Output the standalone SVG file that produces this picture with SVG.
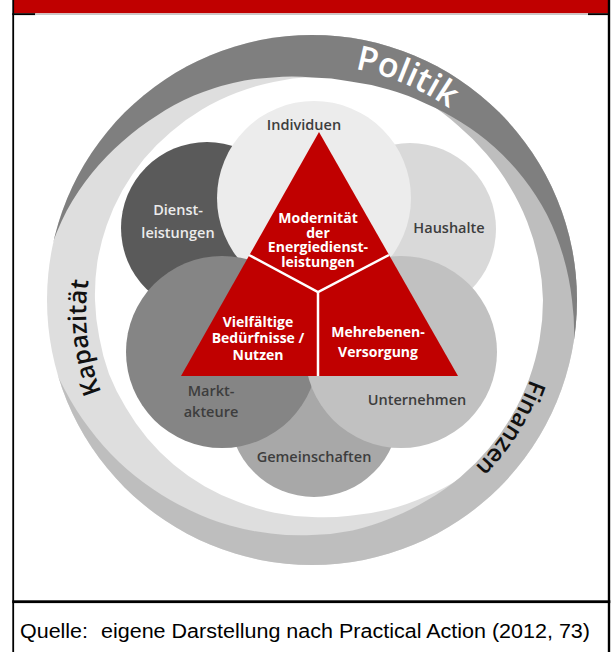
<svg xmlns="http://www.w3.org/2000/svg" width="611" height="652" viewBox="0 0 611 652">
<defs>
<style>
.lbl{font-family:"Open Sans","Liberation Sans",sans-serif;font-weight:600;font-size:14.5px;fill:#3d3d3d;text-anchor:middle}
.lblw{font-family:"Open Sans","Liberation Sans",sans-serif;font-weight:600;font-size:14.5px;fill:#ececec;text-anchor:middle}
.tri{font-family:"Open Sans","Liberation Sans",sans-serif;font-weight:700;font-size:14px;fill:#ffffff;text-anchor:middle}
.ring{font-family:"Open Sans","Liberation Sans",sans-serif;font-weight:600;text-anchor:middle}
.cap{font-family:"Liberation Sans",Arial,sans-serif;font-size:20px;fill:#000}
.div{stroke:#ffffff;stroke-width:2.5;fill:none}
</style>
<mask id="mLight" maskUnits="userSpaceOnUse" x="0" y="0" width="611" height="652">
<rect width="611" height="652" fill="#fff"/>
<path fill="#000" d="M553,300 A241,241 0 0 1 549.3,341.8 A241,241 0 0 1 538.5,382.4 A240,240 0 0 1 519.8,420 A237,237 0 0 1 493.5,452.3 A232,232 0 0 1 461.1,477.7 A227,227 0 0 1 425.5,496.6 A223,223 0 0 1 388.3,509.6 A219,219 0 0 1 350,515.7 A217,217 0 0 1 312,517 A216,216 0 0 1 274.5,512.7 A215,215 0 0 1 238.5,502 A215,215 0 0 1 204.5,486.2 A215,215 0 0 1 173.8,464.7 A215,215 0 0 1 147.3,438.2 A215,215 0 0 1 125.8,407.5 A216,216 0 0 1 109,373.9 A216,216 0 0 1 99.3,337.5 A217,217 0 0 1 95,300 A218,218 0 0 1 97.3,262.2 A218,218 0 0 1 106.7,225.3 A219,219 0 0 1 122.3,190.5 A219,219 0 0 1 143.9,158.9 A219,219 0 0 1 170.9,131.9 A220,220 0 0 1 202,109.5 A220,220 0 0 1 236.6,92.8 A221,221 0 0 1 273.5,81.9 A223,223 0 0 1 312,77 A225,225 0 0 1 351.1,78.4 A227,227 0 0 1 389.6,86.7 A229,229 0 0 1 426.5,101.7 A231,231 0 0 1 460.5,123.1 A233,233 0 0 1 490.5,150.2 A235,235 0 0 1 515.5,182.5 A237,237 0 0 1 534.7,218.9 A239,239 0 0 1 547.4,258.5 A241,241 0 0 1 553,300 Z"/>
</mask>
<mask id="mMed" maskUnits="userSpaceOnUse" x="0" y="0" width="611" height="652">
<rect width="611" height="652" fill="#fff"/>
<path fill="#000" d="M263.9,-30 L263.9,27.2 A272,272 0 0 1 312,33 A258,258 0 0 1 355.4,53.8 A242,242 0 0 1 392.4,79.2 A232,232 0 0 1 426.5,101.7 A228,228 0 0 1 458.2,125.7 A227.5,227.5 0 0 1 486.3,153.8 A228,228 0 0 1 509.4,186 A229,229 0 0 1 527.2,221.7 A230,230 0 0 1 538.5,260.1 A231,231 0 0 1 543,300 A231,231 0 0 1 539.5,340.1 A231,231 0 0 1 529.1,379 A231,231 0 0 1 512,415.5 A231,231 0 0 1 488.9,448.5 A231,231 0 0 1 460.5,476.9 A231,231 0 0 1 427.5,500 A232,232 0 0 1 391.3,518 A233,233 0 0 1 352.6,530.4 A235,235 0 0 1 312,535 A236,236 0 0 1 270.9,533.4 A239,239 0 0 1 229.9,525.5 A242,242 0 0 1 190.5,510.4 A245,245 0 0 1 153.2,489.2 A250,250 0 0 1 119,462 A255,255 0 0 1 89.4,428.5 A260,260 0 0 1 64.9,389.9 A267,267 0 0 1 46.1,346.9 A274,274 0 0 1 35,300 L-30,300 L-30,-30 Z"/>
</mask>
<mask id="mDark" maskUnits="userSpaceOnUse" x="0" y="0" width="611" height="652">
<rect width="611" height="652" fill="#fff"/>
<path fill="#000" d="M-30,276.4 L42,276.4 A269,269 0 0 1 49.1,253.6 A264,264 0 0 1 66.7,210.7 A257,257 0 0 1 92,173 A250,250 0 0 1 122.8,141.2 A244,244 0 0 1 157.1,115.4 A238,238 0 0 1 194,95.6 A233,233 0 0 1 233,82.9 A228,228 0 0 1 272.8,77.4 A224,224 0 0 1 312,77.5 A222,222 0 0 1 350.5,81.4 A223,223 0 0 1 388.6,89.5 A225,225 0 0 1 425.5,103.4 A229,229 0 0 1 461.1,122.3 A235,235 0 0 1 494.3,147 A241,241 0 0 1 523.3,178 A247,247 0 0 1 546.9,214.5 A252,252 0 0 1 563.1,255.7 A257,257 0 0 1 572,300 A263,263 0 0 1 574,346.2 A269,269 0 0 1 568.5,393.4 L640,400 L640,660 L-30,660 Z"/>
</mask>
<path id="pPolitik" d="M129.7,150 A238,238 0 0 1 550,303"/>
<path id="pFin" d="M539.5,262.9 A231,231 0 0 1 352.1,530.5"/>
<path id="pKap" d="M225.5,512.2 A212,212 0 0 1 225.5,113.8"/>
</defs>
<rect width="611" height="652" fill="#fff"/>
<g id="frame">
<rect x="14" y="0" width="594" height="13.3" fill="#c00000"/>
<rect x="12.3" y="0" width="1.8" height="652" fill="#000"/>
<rect x="607.8" y="0" width="2.4" height="652" fill="#000"/>
<rect x="12.3" y="13.2" width="23" height="1.9" fill="#000"/>
<rect x="588" y="13.2" width="22" height="1.9" fill="#000"/>
<rect x="35" y="13.4" width="553" height="1.6" fill="#c8c8c8"/>
<rect x="12.3" y="600.3" width="598" height="2.8" fill="#000"/>
</g>
<g id="ring-kapazitaet">
<circle cx="312" cy="300" r="265" fill="#dedede" mask="url(#mLight)"/>
<text class="ring" font-size="25" fill="#111"><textPath href="#pKap" startOffset="45.3%">Kapazität</textPath></text>
</g>
<g id="ring-finanzen">
<circle cx="312" cy="300" r="265" fill="#bebebe" mask="url(#mMed)"/>
<text class="ring" font-size="24" fill="#111"><textPath href="#pFin" startOffset="46.9%">Finanzen</textPath></text>
</g>
<g id="ring-politik">
<circle cx="312" cy="300" r="265" fill="#7f7f7f" mask="url(#mDark)"/>
<text class="ring" font-size="34" fill="#fff"><textPath href="#pPolitik" startOffset="52%">Politik</textPath></text>
</g>
<g id="gemeinschaften"><circle cx="314" cy="412" r="85" fill="#a8a8a8"/></g>
<g id="dienstleistungen"><circle cx="207" cy="228" r="86" fill="#5a5a5a"/></g>
<g id="haushalte"><circle cx="410" cy="229" r="86" fill="#d9d9d9"/></g>
<g id="individuen"><circle cx="314" cy="198" r="97" fill="#ececec"/></g>
<g id="marktakteure"><circle cx="222" cy="352" r="96" fill="#858585"/></g>
<g id="unternehmen"><circle cx="401" cy="352" r="96" fill="#c1c1c1"/></g>
<g id="triangle">
<polygon points="319,132 181,376 458,376" fill="#c00000"/>
</g>
<g id="connectors">
<polyline class="div" points="249,255 318,292 389,255"/>
<line class="div" x1="318" y1="292" x2="318" y2="376"/>
</g>
<g id="labels">
<text class="lbl" x="304" y="130">Individuen</text>
<text class="lblw" x="178" y="215">Dienst-</text>
<text class="lblw" x="178" y="238">leistungen</text>
<text class="lbl" x="449" y="233">Haushalte</text>
<text class="lbl" x="211" y="396">Markt-</text>
<text class="lbl" x="211" y="417">akteure</text>
<text class="lbl" x="417" y="405">Unternehmen</text>
<text class="lbl" x="314" y="462">Gemeinschaften</text>
<text class="tri" x="318" y="223">Modernität</text>
<text class="tri" x="318" y="238">der</text>
<text class="tri" x="318" y="252">Energiedienst-</text>
<text class="tri" x="318" y="267">leistungen</text>
<text class="tri" x="258" y="327">Vielfältige</text>
<text class="tri" x="258" y="343">Bedürfnisse /</text>
<text class="tri" x="258" y="360">Nutzen</text>
<text class="tri" x="378" y="337">Mehrebenen-</text>
<text class="tri" x="378" y="357">Versorgung</text>
</g>
<g id="caption">
<text class="cap" x="20" y="638" textLength="68" lengthAdjust="spacingAndGlyphs">Quelle:</text>
<text class="cap" x="101" y="638" textLength="489" lengthAdjust="spacingAndGlyphs">eigene Darstellung nach Practical Action (2012, 73)</text>
</g>
</svg>
